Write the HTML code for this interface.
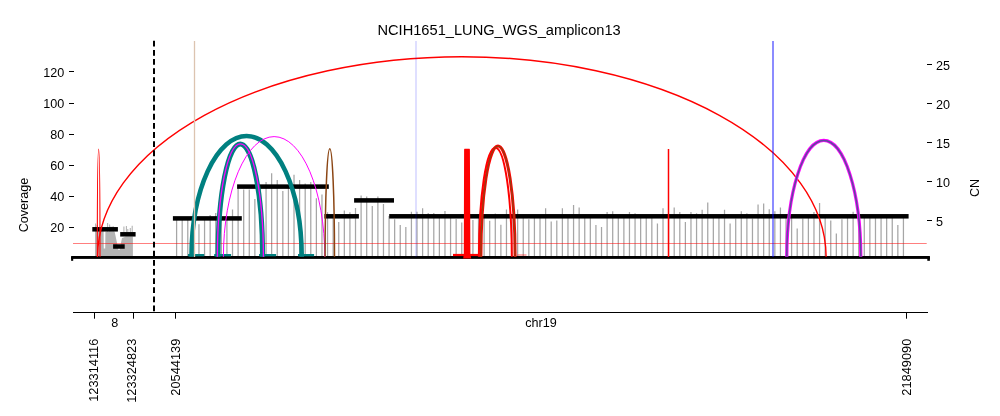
<!DOCTYPE html>
<html><head><meta charset="utf-8"><style>html,body{margin:0;padding:0;background:#fff;width:1000px;height:416px;overflow:hidden}svg{display:block;will-change:transform}</style></head>
<body><svg width="1000" height="416" viewBox="0 0 1000 416">
<rect width="1000" height="416" fill="#fff"/>
<path d="M176.60 219V257 M182.19 219V257 M187.78 219V257 M193.37 219V257 M198.96 224.3V257 M204.56 219V257 M210.15 215.1V257 M215.74 213V257 M221.33 219V257 M226.92 219V257 M232.51 209.4V257 M238.10 187V257 M243.69 189.6V257 M249.28 189.6V257 M254.87 199V257 M260.47 187V257 M266.06 182V257 M271.65 173.3V257 M277.24 180V257 M282.83 191.1V257 M288.42 186V257 M294.01 174.7V257 M299.60 180V257 M305.19 183.4V257 M310.78 182V257 M316.38 198.3V257 M321.97 194.4V257 M327.56 212.3V257 M333.15 216V257 M338.74 222.1V257 M344.33 210.5V257 M349.92 212.3V257 M355.51 208V257 M361.10 195.4V257 M366.69 196.4V257 M372.28 206V257 M377.88 196.4V257 M383.47 204.1V257 M389.06 216V257 M394.65 219.2V257 M400.24 225V257 M405.83 227.1V257 M411.42 211.8V257 M417.01 211.8V257 M422.60 208.3V257 M428.19 213V257 M433.79 213V257 M439.38 216V257 M444.97 211.1V257 M450.56 216V257 M456.15 219V257 M461.74 222.4V257 M467.33 216V257 M472.92 220V257 M478.51 216V257 M484.11 218V257 M489.70 220.8V257 M495.29 213.5V257 M500.88 224.8V257 M506.47 209.5V257 M512.06 216V257 M517.65 209.5V257 M523.24 216V257 M528.83 219.2V257 M534.42 216V257 M540.01 216V257 M545.61 208.3V257 M551.20 221.5V257 M556.79 220.6V257 M562.38 208.3V257 M567.97 216V257 M573.56 205.1V257 M579.15 207.4V257 M584.74 216V257 M590.33 216V257 M595.92 225V257 M601.52 227.1V257 M607.11 212.1V257 M612.70 211.3V257 M618.29 216V257 M623.88 216V257 M629.47 212V257 M635.06 213.3V257 M640.65 216V257 M646.24 216V257 M651.84 216V257 M657.43 223.6V257 M663.02 208.3V257 M668.61 216V257 M674.20 207.4V257 M679.79 212.1V257 M685.38 222.1V257 M690.97 212.1V257 M696.56 213.3V257 M702.15 209.8V257 M707.75 202.5V257 M713.34 216V257 M718.93 216V257 M724.52 209.8V257 M730.11 223.6V257 M735.70 218.6V257 M741.29 211.3V257 M746.88 213.3V257 M752.47 218.6V257 M758.06 204.5V257 M763.66 203.6V257 M769.25 209.2V257 M774.84 211.3V257 M780.43 207.4V257 M786.02 216V257 M791.61 216V257 M797.20 228.5V257 M802.79 218.6V257 M808.38 216V257 M813.97 212.1V257 M819.57 203.0V257 M825.16 216V257 M830.75 220.6V257 M836.34 233.5V257 M841.93 219.2V257 M847.52 216V257 M853.11 211.8V257 M858.70 216V257 M864.29 216V257 M869.88 216V257 M875.48 216V257 M881.07 216V257 M886.66 216V257 M892.25 216V257 M897.84 225V257 M903.43 216V257" stroke="#a6a6a6" stroke-width="1.25" fill="none"/>
<polygon points="95,257 95,229 103.6,229 103.8,248.5 105.2,248.5 105.4,231.6 114.6,231.6 118.5,250 119.5,250 122,238 126,236.5 132.9,236.5 132.9,257" fill="#b4b4b4"/>
<path d="M95.6 223.4V232 M97.2 225V232 M107.6 223V232 M109.6 224.5V232 M111 226.5V232 M113.1 226V232 M123.9 226.5V232 M126.4 226V232 M127.8 229V232 M130.3 228V232 M132.2 225.8V232" stroke="#b4b4b4" stroke-width="1.1" fill="none"/>
<line x1="73" y1="243.5" x2="926.7" y2="243.5" stroke="#ff0000" stroke-opacity="0.5" stroke-width="1.1"/>
<rect x="92.3" y="227.05" width="25.60" height="4.5" fill="#000"/>
<rect x="113.1" y="244.25" width="11.60" height="4.5" fill="#000"/>
<rect x="120.2" y="232.05" width="15.40" height="4.5" fill="#000"/>
<rect x="172.9" y="216.15" width="68.90" height="4.5" fill="#000"/>
<rect x="237.1" y="184.35" width="91.70" height="4.5" fill="#000"/>
<rect x="324.4" y="214.05" width="34.50" height="4.5" fill="#000"/>
<rect x="354.1" y="198.15" width="39.90" height="4.5" fill="#000"/>
<rect x="389.2" y="214.05" width="519.40" height="4.5" fill="#000"/>
<rect x="71.1" y="256" width="858.8" height="2.9" fill="#000"/>
<rect x="71.1" y="257" width="2.1" height="3.8" fill="#000"/>
<rect x="927.3" y="257" width="2.6" height="3.8" fill="#000"/>
<rect x="188" y="254" width="16.2" height="2.3" fill="#008080"/>
<rect x="214.2" y="254" width="16.9" height="2.3" fill="#008080"/>
<rect x="259.1" y="254" width="17" height="2.3" fill="#008080"/>
<rect x="298" y="254" width="16.1" height="2.3" fill="#008080"/>
<rect x="453" y="253.9" width="25" height="2.2" fill="#ff0000"/>
<line x1="517.5" y1="255" x2="526.5" y2="255" stroke="#ff0000" stroke-opacity="0.5" stroke-width="1.2"/>
<path d="M97.58 256.8A364.25 200.15 0 0 1 826.08 256.8" fill="none" stroke="#ff0000" stroke-width="1.4" />
<path d="M97.30 256.8A1.35 107.70 0 0 1 100.00 256.8" fill="none" stroke="#ff0000" stroke-width="1.1" />
<path d="M191.50 256.8A55.10 120.80 0 0 1 301.70 256.8" fill="none" stroke="#008080" stroke-width="4.6" />
<path d="M218.00 256.8A22.30 112.90 0 0 1 262.60 256.8" fill="none" stroke="#008080" stroke-width="5" />
<path d="M217.40 256.8A23.00 112.90 0 0 1 263.40 256.8" fill="none" stroke="#ff00ff" stroke-width="1.3" />
<path d="M223.40 256.8A50.70 120.20 0 0 1 324.80 256.8" fill="none" stroke="#ff00ff" stroke-width="1.0" />
<path d="M325.10 256.8A4.70 108.00 0 0 1 334.50 256.8" fill="none" stroke="#8b4513" stroke-width="1.5" />
<path d="M464.6 148.8H469.4Q469.9 148.8 469.9 150L470.4 254L471.2 258.5H463.2L463.8 254L464.1 150Q464.1 148.8 464.6 148.8Z" fill="#ff0000"/>
<path d="M478.90 256.8A16.45 109.20 0 0 1 511.80 256.8" fill="none" stroke="#ff0000" stroke-width="2" />
<path d="M480.90 256.8A17.10 110.70 0 0 1 515.10 256.8" fill="none" stroke="#ff0000" stroke-width="3" />
<path d="M480.90 256.8A17.10 110.70 0 0 1 515.10 256.8" fill="none" stroke="#8b4513" stroke-width="1.2" />
<line x1="668.5" y1="149" x2="668.5" y2="257" stroke="#ff0000" stroke-width="1.5"/>
<path d="M786.80 256.8A37.00 116.40 0 0 1 860.80 256.8" fill="none" stroke="#ff00ff" stroke-width="3.2" />
<path d="M786.80 256.8A37.00 116.40 0 0 1 860.80 256.8" fill="none" stroke="#5c4c9c" stroke-width="1.5" />
<line x1="194.5" y1="41" x2="194.5" y2="257" stroke="#dcc4b0" stroke-width="1.3"/>
<line x1="416" y1="41" x2="416" y2="257" stroke="#0000ff" stroke-opacity="0.14" stroke-width="1.8"/>
<line x1="773" y1="41" x2="773" y2="257" stroke="#0000ff" stroke-opacity="0.5" stroke-width="1.8"/>
<text x="499.1" y="35.3" font-family="Liberation Sans, sans-serif" font-size="14.65" text-anchor="middle" fill="#000">NCIH1651_LUNG_WGS_amplicon13</text>
<line x1="69" y1="227.5" x2="74" y2="227.5" stroke="#000" stroke-width="1"/>
<text x="64.3" y="232.10" font-family="Liberation Sans, sans-serif" font-size="12.6" text-anchor="end">20</text>
<line x1="69" y1="196.5" x2="74" y2="196.5" stroke="#000" stroke-width="1"/>
<text x="64.3" y="201.15" font-family="Liberation Sans, sans-serif" font-size="12.6" text-anchor="end">40</text>
<line x1="69" y1="165.5" x2="74" y2="165.5" stroke="#000" stroke-width="1"/>
<text x="64.3" y="170.20" font-family="Liberation Sans, sans-serif" font-size="12.6" text-anchor="end">60</text>
<line x1="69" y1="134.5" x2="74" y2="134.5" stroke="#000" stroke-width="1"/>
<text x="64.3" y="139.25" font-family="Liberation Sans, sans-serif" font-size="12.6" text-anchor="end">80</text>
<line x1="69" y1="103.5" x2="74" y2="103.5" stroke="#000" stroke-width="1"/>
<text x="64.3" y="108.30" font-family="Liberation Sans, sans-serif" font-size="12.6" text-anchor="end">100</text>
<line x1="69" y1="71.5" x2="74" y2="71.5" stroke="#000" stroke-width="1"/>
<text x="64.3" y="77.35" font-family="Liberation Sans, sans-serif" font-size="12.6" text-anchor="end">120</text>
<line x1="927" y1="220.5" x2="932" y2="220.5" stroke="#000" stroke-width="1"/>
<text x="936" y="226.20" font-family="Liberation Sans, sans-serif" font-size="12.6">5</text>
<line x1="927" y1="181.5" x2="932" y2="181.5" stroke="#000" stroke-width="1"/>
<text x="936" y="187.20" font-family="Liberation Sans, sans-serif" font-size="12.6">10</text>
<line x1="927" y1="142.5" x2="932" y2="142.5" stroke="#000" stroke-width="1"/>
<text x="936" y="148.20" font-family="Liberation Sans, sans-serif" font-size="12.6">15</text>
<line x1="927" y1="103.5" x2="932" y2="103.5" stroke="#000" stroke-width="1"/>
<text x="936" y="109.20" font-family="Liberation Sans, sans-serif" font-size="12.6">20</text>
<line x1="927" y1="64.5" x2="932" y2="64.5" stroke="#000" stroke-width="1"/>
<text x="936" y="70.20" font-family="Liberation Sans, sans-serif" font-size="12.6">25</text>
<text transform="translate(27.5,205) rotate(-90)" font-family="Liberation Sans, sans-serif" font-size="12.6" text-anchor="middle">Coverage</text>
<text transform="translate(979,188) rotate(-90)" font-family="Liberation Sans, sans-serif" font-size="12.6" text-anchor="middle">CN</text>
<line x1="73" y1="312.5" x2="928" y2="312.5" stroke="#000" stroke-width="1.2"/>
<line x1="94.5" y1="312" x2="94.5" y2="318.7" stroke="#000" stroke-width="1"/>
<line x1="133.5" y1="312" x2="133.5" y2="318.7" stroke="#000" stroke-width="1"/>
<line x1="175.5" y1="312" x2="175.5" y2="318.7" stroke="#000" stroke-width="1"/>
<line x1="906.5" y1="312" x2="906.5" y2="318.7" stroke="#000" stroke-width="1"/>
<text x="114.7" y="326.7" font-family="Liberation Sans, sans-serif" font-size="12.6" text-anchor="middle">8</text>
<text x="541" y="326.7" font-family="Liberation Sans, sans-serif" font-size="12.6" text-anchor="middle">chr19</text>
<text transform="translate(97.89999999999999,338.7) rotate(-90)" font-family="Liberation Sans, sans-serif" font-size="12.8" text-anchor="end">123314116</text>
<text transform="translate(135.7,338.7) rotate(-90)" font-family="Liberation Sans, sans-serif" font-size="12.8" text-anchor="end">123324823</text>
<text transform="translate(179.79999999999998,338.7) rotate(-90)" font-family="Liberation Sans, sans-serif" font-size="12.8" text-anchor="end">20544139</text>
<text transform="translate(911.1,338.7) rotate(-90)" font-family="Liberation Sans, sans-serif" font-size="12.8" text-anchor="end">21849090</text>
<line x1="154" y1="40.8" x2="154" y2="312" stroke="#000" stroke-width="2" stroke-dasharray="5.8 3.33"/>
</svg></body></html>
